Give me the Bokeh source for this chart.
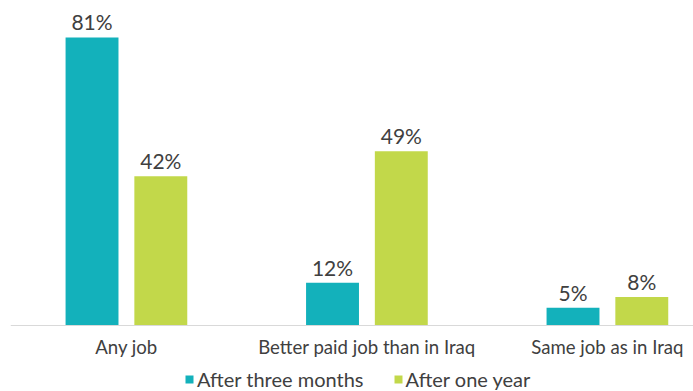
from bokeh.plotting import figure
from bokeh.models import ColumnDataSource, Legend, LegendItem, Range1d, LabelSet, Span
from bokeh.core.properties import value
from bokeh.embed import file_html
from bokeh.resources import INLINE

categories = ["Any job", "Better paid job than in Iraq", "Same job as in Iraq"]
after_three_months = [81, 12, 5]
after_one_year = [42, 49, 8]
series_names = ["After three months", "After one year"]
colors = ["#13B1BB", "#C2D84A"]

xs = list(range(len(categories)))
off = 0.143
bw = 0.22

p = figure(frame_width=683, frame_height=391, output_backend="svg", toolbar_location=None,
           x_range=Range1d(-0.482, 2.358), y_range=Range1d(-18.56, 91.4),
           min_border_left=10, min_border_right=0, min_border_top=0, min_border_bottom=0)

s1 = ColumnDataSource(dict(x=[x - off for x in xs], y=after_three_months,
                           t=[f"{v}%" for v in after_three_months]))
s2 = ColumnDataSource(dict(x=[x + off for x in xs], y=after_one_year,
                           t=[f"{v}%" for v in after_one_year]))
r1 = p.vbar(x="x", top="y", width=bw, source=s1, color=colors[0], line_color=None)
r2 = p.vbar(x="x", top="y", width=bw, source=s2, color=colors[1], line_color=None)

for s in (s1, s2):
    p.add_layout(LabelSet(x="x", y="y", text="t", source=s, text_align="center",
                          text_baseline="bottom", y_offset=3, text_font=value("Lato"),
                          text_font_size="21px", text_color="#404040"))

# category axis (drawn at y = 0)
p.add_layout(Span(location=0, dimension="width", line_color="#D9D9D9", line_width=1))
cat_src = ColumnDataSource(dict(x=xs, y=[0] * len(xs), t=categories))
p.add_layout(LabelSet(x="x", y="y", text="t", source=cat_src, text_align="center",
                      text_baseline="middle", y_offset=-21, text_font=value("Lato"),
                      text_font_size="18.6px", text_color="#404040"))

p.axis.visible = False
p.xgrid.visible = False
p.ygrid.visible = False
p.outline_line_color = None

legend = Legend(items=[LegendItem(label=series_names[0], renderers=[r1]),
                       LegendItem(label=series_names[1], renderers=[r2])],
                orientation="horizontal", location=(174, 0),
                glyph_width=10, glyph_height=10, label_standoff=3, spacing=29,
                padding=0, margin=0, border_line_color=None, background_fill_alpha=0,
                label_text_font="Lato", label_text_font_size="20px",
                label_text_color="#404040", label_height=20)
p.add_layout(legend, "center")

open("out.html", "w").write(file_html(p, INLINE))
